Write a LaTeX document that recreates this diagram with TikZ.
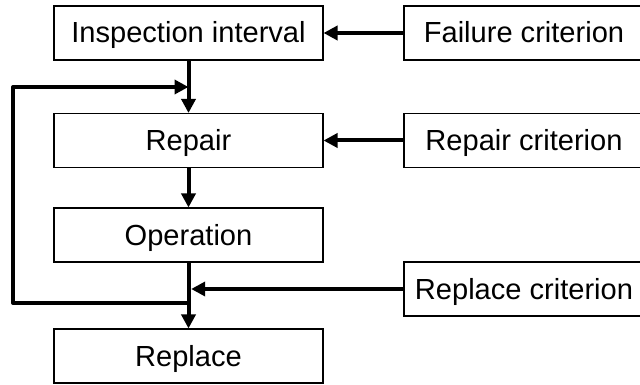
\documentclass[tikz,border=0pt]{standalone}
\usepackage{fontspec}
\setmainfont{Liberation Sans}
\usetikzlibrary{arrows.meta}
\begin{document}
\begin{tikzpicture}[x=0.75pt,y=-0.75pt,
  box/.style={draw=black,line width=0.8pt,minimum height=40.5pt,inner sep=0pt,
    text height=18pt,text depth=3pt,
    font=\fontsize{21.8}{24}\selectfont},
  leftbox/.style={box,minimum width=201.75pt},
  rightbox/.style={box,minimum width=180pt},
  flow/.style={line width=3pt,-{Triangle[length=10.5pt,width=10.5pt]}}]
\useasboundingbox (0,0) rectangle (640,385);
% main chain
\node[leftbox] (insp) at (188.5,33) {Inspection interval};
\node[leftbox] (rep) at (188.5,140.5) {Repair};
\node[leftbox] (op) at (188.5,235) {Operation};
\node[leftbox] (repl) at (188.5,356) {Replace};
% criteria
\node[rightbox] (fc) at (524,33) {Failure criterion};
\node[rightbox] (rc) at (524,140.5) {Repair criterion};
\node[rightbox] (plc) at (524,289) {Replace criterion};
% junction points on the vertical line
\coordinate (j1) at (188.5,87);
\coordinate (j2) at (188.5,289);
\coordinate (j3) at (188.5,303);
\coordinate (lc) at (13,303);
% connectors
\draw[flow] (insp) -- (rep);
\draw[flow] (rep) -- (op);
\draw[flow] (op) -- (repl);
\draw[flow] (fc) -- (insp);
\draw[flow] (rc) -- (rep);
\draw[flow] (plc.west) -- ([xshift=2pt]j2);
\draw[flow,line join=round] (j3) -- (lc) |- (j1);
\end{tikzpicture}
\end{document}
